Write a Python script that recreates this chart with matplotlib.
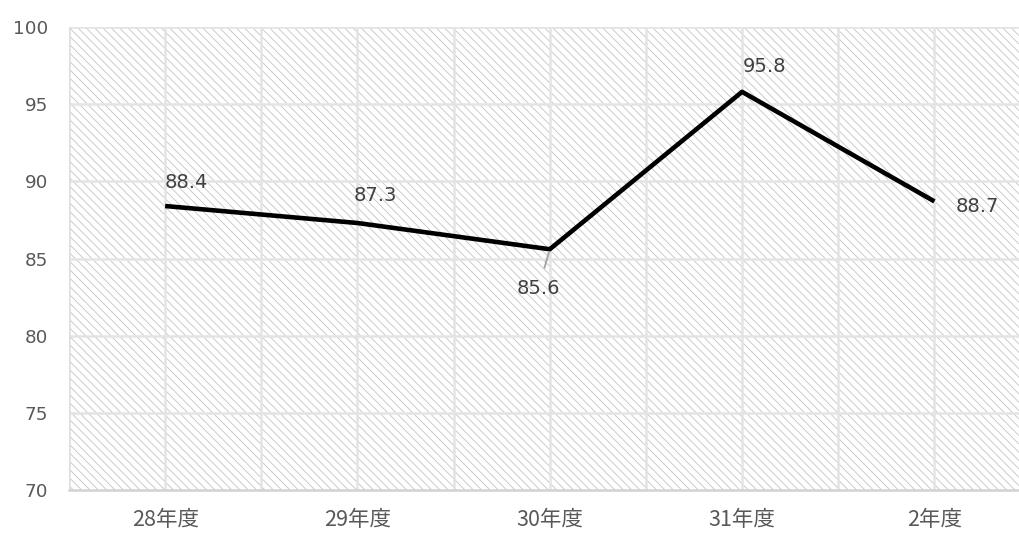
import matplotlib
matplotlib.use("Agg")
import matplotlib.pyplot as plt
from matplotlib.patches import Rectangle

plt.rcParams['font.family'] = ['DejaVu Sans', 'Noto Sans CJK JP']
plt.rcParams['hatch.linewidth'] = 0.6

categories = ['28年度', '29年度', '30年度', '31年度', '2年度']
values = [88.4, 87.3, 85.6, 95.8, 88.7]
yticks = [70, 75, 80, 85, 90, 95, 100]

W, H = 1019, 533
fig = plt.figure(figsize=(W / 100, H / 100), dpi=100)
ax = fig.add_axes([69 / W, 1 - 490 / H, 1 - 69 / W, (490 - 27) / H])

x = list(range(len(categories)))
ax.set_xlim(-0.5, 4.44)
ax.set_ylim(70, 100)

# hatched background
bg = Rectangle((0, 0), 1, 1, transform=ax.transAxes, facecolor='white',
               edgecolor='#c4c4c4', hatch='\\\\\\\\', linewidth=0, zorder=0)
ax.add_patch(bg)

# gridlines
for yv in yticks[1:]:
    ax.axhline(yv, color='#e4e4e4', lw=1.8, zorder=1)
for xv in [i * 0.5 for i in range(0, 10)]:
    ax.axvline(xv, color='#e4e4e4', lw=1.8, zorder=1)
ax.axvline(-0.5, color='#dedede', lw=1.8, zorder=1)

ax.plot(x, values, color='black', lw=3.3, zorder=3, solid_capstyle='butt')

for s in ['top', 'right', 'left']:
    ax.spines[s].set_visible(False)
ax.spines['bottom'].set_color('#d2d2d2')
ax.spines['bottom'].set_linewidth(1.8)

ax.set_xticks(x)
ax.set_xticklabels(categories, fontsize=15.5, color='#595959',
                   family=['Noto Sans CJK JP', 'DejaVu Sans'])
ax.set_yticks(yticks)
ax.set_yticklabels([str(v) for v in yticks], fontsize=13.2, color='#595959')
ax.tick_params(axis='y', length=0, pad=15)
ax.tick_params(axis='x', length=0, pad=14)

lab_col = '#404040'
fs = 14
# data labels (offsets in points)
offsets = [(15, 17), (13, 20), (-8, -28), (16.5, 18), (31, -3.5)]
for i, (v, off) in enumerate(zip(values, offsets)):
    if i == 2:
        ax.annotate(f'{v:.1f}', xy=(x[i], v), xytext=off, textcoords='offset points',
                    ha='center', va='center', fontsize=fs, color=lab_col,
                    arrowprops=dict(arrowstyle='-', color='#a6a6a6', lw=1.4,
                                    shrinkA=6, shrinkB=2))
    else:
        ax.annotate(f'{v:.1f}', xy=(x[i], v), xytext=off, textcoords='offset points',
                    ha='center', va='center', fontsize=fs, color=lab_col)

fig.savefig('out.png', dpi=100)
